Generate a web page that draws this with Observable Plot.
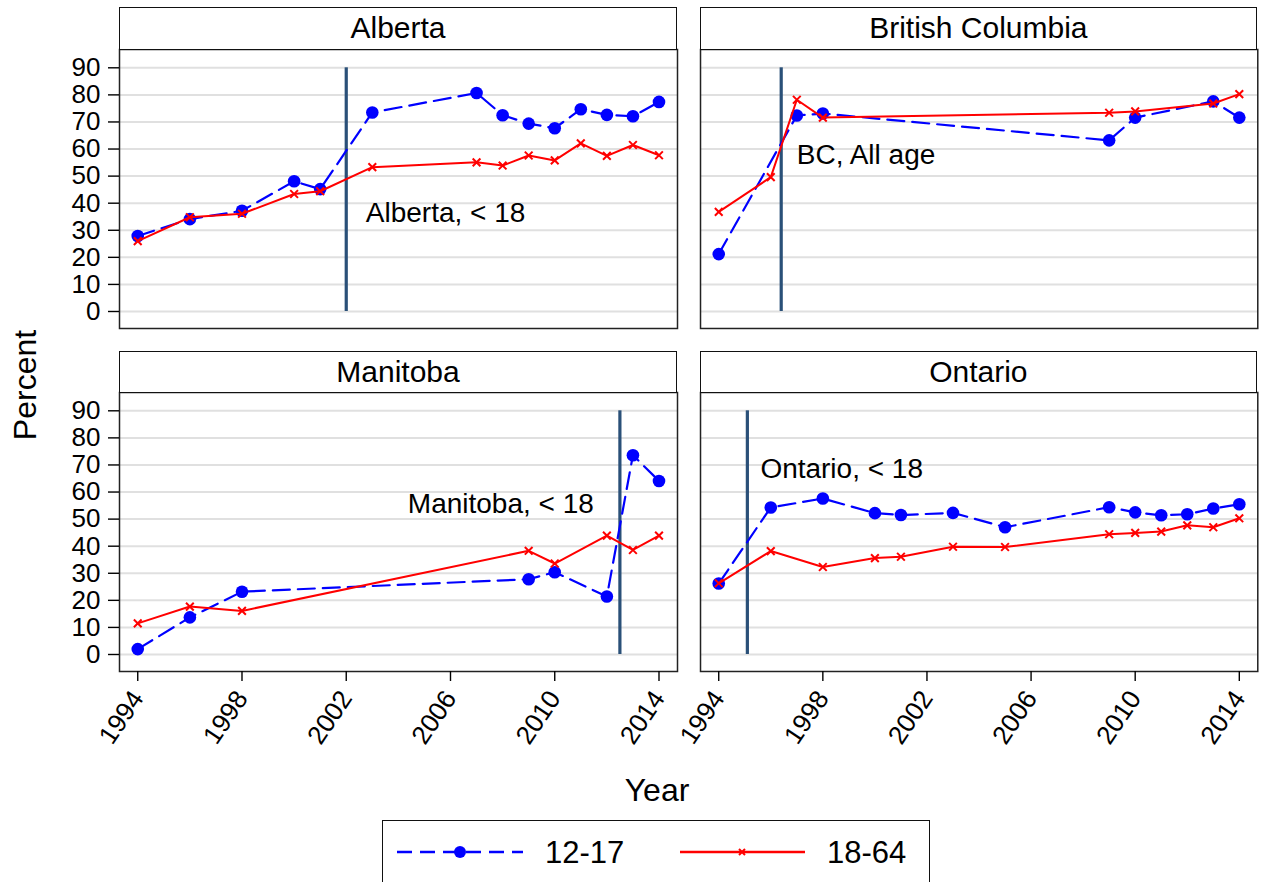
<!DOCTYPE html>
<html><head><meta charset="utf-8">
<script src="https://cdn.jsdelivr.net/npm/d3@7"></script>
<script src="https://cdn.jsdelivr.net/npm/@observablehq/plot@0.6"></script>
<style>
body{margin:0;background:#fff;}
#chart{position:relative;width:1261px;height:882px;overflow:hidden;font-family:"Liberation Sans",Arial,Helvetica,sans-serif;color:#000;}
.hdr{position:absolute;box-sizing:border-box;border:1.5px solid #111;display:flex;align-items:center;justify-content:center;font-size:30px;background:#fff;}
.abs{position:absolute;}
</style></head><body><div id="chart"></div><script>
// ---- data ----
const provinces = ["Alberta", "British Columbia", "Manitoba", "Ontario"];
const seriesNames = ["12-17", "18-64"];
const yTicks = [0, 10, 20, 30, 40, 50, 60, 70, 80, 90];
const xTicks = [1994, 1998, 2002, 2006, 2010, 2014];

const albertaYears = [1994, 1996, 1998, 2000, 2001, 2003, 2007, 2008, 2009, 2010, 2011, 2012, 2013, 2014];
const albertaYouth = [27.9, 34.1, 37.2, 48.1, 45.2, 73.5, 80.7, 72.5, 69.4, 67.7, 74.7, 72.6, 72.1, 77.4];
const albertaAdult = [26.0, 34.8, 36.1, 43.4, 44.4, 53.3, 55.1, 53.9, 57.6, 55.8, 62.1, 57.5, 61.5, 57.7];

const bcYouthYears = [1994, 1997, 1998, 2009, 2010, 2013, 2014];
const bcYouth = [21.2, 72.4, 73.1, 63.2, 71.6, 77.6, 71.6];
const bcAdultYears = [1994, 1996, 1997, 1998, 2009, 2010, 2013, 2014];
const bcAdult = [36.8, 49.6, 78.2, 71.6, 73.4, 73.9, 76.8, 80.3];

const manitobaYears = [1994, 1996, 1998, 2009, 2010, 2012, 2013, 2014];
const manitobaYouth = [2.0, 13.7, 23.2, 27.8, 30.4, 21.4, 73.6, 64.1];
const manitobaAdult = [11.5, 17.7, 16.1, 38.3, 33.6, 43.9, 38.6, 43.9];

const ontarioYears = [1994, 1996, 1998, 2000, 2001, 2003, 2005, 2009, 2010, 2011, 2012, 2013, 2014];
const ontarioYouth = [26.2, 54.3, 57.6, 52.2, 51.5, 52.3, 47.0, 54.4, 52.5, 51.4, 51.8, 53.9, 55.5];
const ontarioAdult = [26.3, 38.2, 32.3, 35.6, 36.1, 39.8, 39.7, 44.4, 44.9, 45.4, 47.7, 47.0, 50.3];

const policyYears = [2002, 1996.4, 2012.5, 1995.1];
const noteTexts = ["Alberta, < 18", "BC, All age", "Manitoba, < 18", "Ontario, < 18"];
const noteYears = [2002.75, 1997.0, 2011.5, 1995.6];
const noteValues = [36.4, 57.9, 55.6, 68.6];
const noteAnchors = ["start", "start", "end", "start"];

// ---- build tables ----
const zip = (years, vals) => years.map((x, i) => ({x, y: vals[i]}));
const panels = [
  {youth: zip(albertaYears, albertaYouth), adult: zip(albertaYears, albertaAdult)},
  {youth: zip(bcYouthYears, bcYouth), adult: zip(bcAdultYears, bcAdult)},
  {youth: zip(manitobaYears, manitobaYouth), adult: zip(manitobaYears, manitobaAdult)},
  {youth: zip(ontarioYears, ontarioYouth), adult: zip(ontarioYears, ontarioAdult)}
];

// ---- layout ----
const FONT = '"Liberation Sans", Arial, Helvetica, sans-serif';
const BLUE = "#0000ff", RED = "#ff0000", XLINE = "#2a5078";
const colX = [119, 699.7], colW = [558, 557.3];
const rowY = [48.7, 392], plotH = 279;
const hdrTop = [7.3, 351];
const chart = document.getElementById("chart");

panels.forEach((p, i) => {
  const col = i % 2, row = Math.floor(i / 2);
  const showY = col === 0, showX = row === 1;
  const mL = showY ? 119 : 2, mR = 2, mT = 2, mB = showX ? 120 : 2;
  const marks = [
    Plot.ruleY(yTicks, {stroke: "#e0e0e0", strokeWidth: 2}),
    Plot.ruleX([policyYears[i]], {y1: 0, y2: 90, stroke: XLINE, strokeWidth: 3.2}),
    Plot.line(p.youth, {x: "x", y: "y", stroke: BLUE, strokeWidth: 2.2, strokeDasharray: "17,8"}),
    Plot.dot(p.youth, {x: "x", y: "y", r: 6.3, fill: BLUE, stroke: "none"}),
    Plot.line(p.adult, {x: "x", y: "y", stroke: RED, strokeWidth: 2}),
    Plot.dot(p.adult, {x: "x", y: "y", symbol: "times", r: 3.6, stroke: RED, strokeWidth: 2}),
    Plot.text([0], {x: () => noteYears[i], y: () => noteValues[i], text: () => noteTexts[i],
      textAnchor: noteAnchors[i], fontSize: 28, fill: "#000"}),
    Plot.frame({stroke: "#222", strokeWidth: 1.5})
  ];
  if (showY) marks.push(Plot.axisY(yTicks, {tickSize: 11, tickPadding: 8, fontSize: 26, tickFormat: "d", label: null, stroke: "#000", strokeWidth: 1.4}));
  if (showX) marks.push(Plot.axisX(xTicks, {tickSize: 10, tickPadding: 12, fontSize: 26, tickFormat: "d", tickRotate: -56, label: null, stroke: "#000", strokeWidth: 1.4}));
  const svg = Plot.plot({
    width: mL + colW[col] + mR,
    height: mT + plotH + mB,
    marginLeft: mL, marginRight: mR, marginTop: mT, marginBottom: mB,
    x: {domain: [1993.30, 2014.71], axis: showX ? undefined : null},
    y: {domain: [-6.28, 96.76], axis: showY ? undefined : null},
    style: {fontFamily: FONT, color: "#000", background: "transparent", overflow: "visible"},
    marks
  });
  svg.classList.add("abs");
  svg.style.left = (colX[col] - mL) + "px";
  svg.style.top = (rowY[row] - mT) + "px";
  chart.appendChild(svg);

  const hdr = document.createElement("div");
  hdr.className = "hdr";
  hdr.style.left = colX[col] + "px";
  hdr.style.top = hdrTop[row] + "px";
  hdr.style.width = colW[col] + "px";
  hdr.style.height = (rowY[row] - hdrTop[row] + 1) + "px";
  hdr.textContent = provinces[i];
  chart.appendChild(hdr);
});

// axis titles
const yt = document.createElement("div");
yt.className = "abs";
yt.style.cssText += "left:25px;top:385px;transform:translate(-50%,-50%) rotate(-90deg);font-size:32px;white-space:nowrap;";
yt.textContent = "Percent";
chart.appendChild(yt);
const xt = document.createElement("div");
xt.className = "abs";
xt.style.cssText += "left:657px;top:790px;transform:translate(-50%,-50%);font-size:32px;white-space:nowrap;";
xt.textContent = "Year";
chart.appendChild(xt);

// legend
const lg = document.createElement("div");
lg.className = "abs";
lg.style.cssText += "left:382px;top:820px;width:548px;height:80px;box-sizing:border-box;border:1.5px solid #111;background:#fff;";
lg.innerHTML = `<svg width="548" height="80" style="position:absolute;left:-1.5px;top:-1.5px;font-family:${FONT}">
  <line x1="15" x2="141" y1="32" y2="32" stroke="${BLUE}" stroke-width="2.5" stroke-dasharray="15,8"/>
  <circle cx="78" cy="32" r="6" fill="${BLUE}"/>
  <text x="163" y="32" dy="0.36em" font-size="31">${seriesNames[0]}</text>
  <line x1="298" x2="423" y1="32" y2="32" stroke="${RED}" stroke-width="2.5"/>
  <path d="M357,29 l6,6 M363,29 l-6,6" stroke="${RED}" stroke-width="2"/>
  <text x="445" y="32" dy="0.36em" font-size="31">${seriesNames[1]}</text>
</svg>`;
chart.appendChild(lg);
</script></body></html>
